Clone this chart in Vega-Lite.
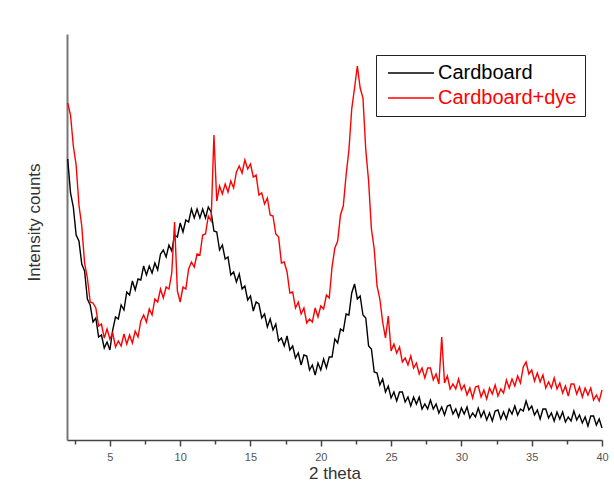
{
  "$schema": "https://vega.github.io/schema/vega-lite/v6.json",
  "width": 535,
  "height": 406,
  "autosize": "none",
  "padding": {"left": 67, "top": 34, "right": 12, "bottom": 47},
  "background": "white",
  "config": {"view": {"stroke": null}, "font": "Liberation Sans"},
  "data": {"values": [
    {"t":2.0,"Cardboard":281,"Cardboard+dye":337},{"t":2.2,"Cardboard":247,"Cardboard+dye":325},{"t":2.4,"Cardboard":233,"Cardboard+dye":294},{"t":2.6,"Cardboard":205,"Cardboard+dye":275},{"t":2.8,"Cardboard":199,"Cardboard+dye":235},
    {"t":3.0,"Cardboard":176,"Cardboard+dye":214},{"t":3.2,"Cardboard":169,"Cardboard+dye":177},{"t":3.4,"Cardboard":141,"Cardboard+dye":162},{"t":3.6,"Cardboard":135,"Cardboard+dye":138},{"t":3.8,"Cardboard":118,"Cardboard+dye":137},
    {"t":4.0,"Cardboard":122,"Cardboard+dye":132},{"t":4.2,"Cardboard":103,"Cardboard+dye":114},{"t":4.4,"Cardboard":105,"Cardboard+dye":116},{"t":4.6,"Cardboard":92,"Cardboard+dye":102},{"t":4.8,"Cardboard":98,"Cardboard+dye":111},
    {"t":5.0,"Cardboard":90,"Cardboard+dye":101},{"t":5.2,"Cardboard":110,"Cardboard+dye":107},{"t":5.4,"Cardboard":123,"Cardboard+dye":93},{"t":5.6,"Cardboard":121,"Cardboard+dye":99},{"t":5.8,"Cardboard":135,"Cardboard+dye":94},
    {"t":6.0,"Cardboard":130,"Cardboard+dye":106},{"t":6.2,"Cardboard":148,"Cardboard+dye":96},{"t":6.4,"Cardboard":145,"Cardboard+dye":105},{"t":6.6,"Cardboard":159,"Cardboard+dye":97},{"t":6.8,"Cardboard":150,"Cardboard+dye":109},
    {"t":7.0,"Cardboard":161,"Cardboard+dye":103},{"t":7.2,"Cardboard":160,"Cardboard+dye":119},{"t":7.4,"Cardboard":174,"Cardboard+dye":125},{"t":7.6,"Cardboard":165,"Cardboard+dye":118},{"t":7.8,"Cardboard":174,"Cardboard+dye":131},
    {"t":8.0,"Cardboard":167,"Cardboard+dye":125},{"t":8.2,"Cardboard":177,"Cardboard+dye":141},{"t":8.4,"Cardboard":170,"Cardboard+dye":138},{"t":8.6,"Cardboard":186,"Cardboard+dye":151},{"t":8.8,"Cardboard":190,"Cardboard+dye":142},
    {"t":9.0,"Cardboard":183,"Cardboard+dye":153},{"t":9.2,"Cardboard":195,"Cardboard+dye":151},{"t":9.4,"Cardboard":189,"Cardboard+dye":167},{"t":9.6,"Cardboard":205,"Cardboard+dye":218},{"t":9.8,"Cardboard":203,"Cardboard+dye":149},
    {"t":10.0,"Cardboard":217,"Cardboard+dye":138},{"t":10.2,"Cardboard":208,"Cardboard+dye":153},{"t":10.4,"Cardboard":220,"Cardboard+dye":151},{"t":10.6,"Cardboard":218,"Cardboard+dye":171},{"t":10.8,"Cardboard":231,"Cardboard+dye":178},
    {"t":11.0,"Cardboard":222,"Cardboard+dye":173},{"t":11.2,"Cardboard":231,"Cardboard+dye":186},{"t":11.4,"Cardboard":222,"Cardboard+dye":185},{"t":11.6,"Cardboard":231,"Cardboard+dye":205},{"t":11.8,"Cardboard":222,"Cardboard+dye":206},
    {"t":12.0,"Cardboard":233,"Cardboard+dye":224},{"t":12.2,"Cardboard":228,"Cardboard+dye":219},{"t":12.4,"Cardboard":209,"Cardboard+dye":305},{"t":12.6,"Cardboard":208,"Cardboard+dye":239},{"t":12.8,"Cardboard":190,"Cardboard+dye":254},
    {"t":13.0,"Cardboard":195,"Cardboard+dye":246},{"t":13.2,"Cardboard":181,"Cardboard+dye":256},{"t":13.4,"Cardboard":183,"Cardboard+dye":248},{"t":13.6,"Cardboard":165,"Cardboard+dye":259},{"t":13.8,"Cardboard":168,"Cardboard+dye":252},
    {"t":14.0,"Cardboard":158,"Cardboard+dye":268},{"t":14.2,"Cardboard":166,"Cardboard+dye":274},{"t":14.4,"Cardboard":151,"Cardboard+dye":267},{"t":14.6,"Cardboard":154,"Cardboard+dye":280},{"t":14.8,"Cardboard":140,"Cardboard+dye":271},
    {"t":15.0,"Cardboard":144,"Cardboard+dye":276},{"t":15.2,"Cardboard":129,"Cardboard+dye":263},{"t":15.4,"Cardboard":138,"Cardboard+dye":265},{"t":15.6,"Cardboard":136,"Cardboard+dye":245},{"t":15.8,"Cardboard":122,"Cardboard+dye":247},
    {"t":16.0,"Cardboard":126,"Cardboard+dye":236},{"t":16.2,"Cardboard":113,"Cardboard+dye":242},{"t":16.4,"Cardboard":121,"Cardboard+dye":225},{"t":16.6,"Cardboard":110,"Cardboard+dye":224},{"t":16.8,"Cardboard":116,"Cardboard+dye":206},
    {"t":17.0,"Cardboard":99,"Cardboard+dye":203},{"t":17.2,"Cardboard":102,"Cardboard+dye":177},{"t":17.4,"Cardboard":94,"Cardboard+dye":178},{"t":17.6,"Cardboard":104,"Cardboard+dye":168},{"t":17.8,"Cardboard":90,"Cardboard+dye":147},
    {"t":18.0,"Cardboard":94,"Cardboard+dye":148},{"t":18.2,"Cardboard":82,"Cardboard+dye":132},{"t":18.4,"Cardboard":87,"Cardboard+dye":138},{"t":18.6,"Cardboard":75,"Cardboard+dye":126},{"t":18.8,"Cardboard":85,"Cardboard+dye":132},
    {"t":19.0,"Cardboard":84,"Cardboard+dye":117},{"t":19.2,"Cardboard":70,"Cardboard+dye":121},{"t":19.4,"Cardboard":75,"Cardboard+dye":118},{"t":19.6,"Cardboard":65,"Cardboard+dye":132},{"t":19.8,"Cardboard":77,"Cardboard+dye":123},
    {"t":20.0,"Cardboard":70,"Cardboard+dye":134},{"t":20.2,"Cardboard":81,"Cardboard+dye":131},{"t":20.4,"Cardboard":72,"Cardboard+dye":145},{"t":20.6,"Cardboard":83,"Cardboard+dye":142},{"t":20.8,"Cardboard":83,"Cardboard+dye":173},
    {"t":21.0,"Cardboard":101,"Cardboard+dye":192},{"t":21.2,"Cardboard":97,"Cardboard+dye":199},{"t":21.4,"Cardboard":111,"Cardboard+dye":225},{"t":21.6,"Cardboard":109,"Cardboard+dye":234},{"t":21.8,"Cardboard":126,"Cardboard+dye":265},
    {"t":22.0,"Cardboard":125,"Cardboard+dye":290},{"t":22.2,"Cardboard":147,"Cardboard+dye":331},{"t":22.4,"Cardboard":156,"Cardboard+dye":352},{"t":22.6,"Cardboard":141,"Cardboard+dye":374},{"t":22.8,"Cardboard":144,"Cardboard+dye":352},
    {"t":23.0,"Cardboard":125,"Cardboard+dye":342},{"t":23.2,"Cardboard":122,"Cardboard+dye":290},{"t":23.4,"Cardboard":94,"Cardboard+dye":259},{"t":23.6,"Cardboard":91,"Cardboard+dye":211},{"t":23.8,"Cardboard":68,"Cardboard+dye":191},
    {"t":24.0,"Cardboard":67,"Cardboard+dye":154},{"t":24.2,"Cardboard":55,"Cardboard+dye":141},{"t":24.4,"Cardboard":61,"Cardboard+dye":118},{"t":24.6,"Cardboard":48,"Cardboard+dye":102},{"t":24.8,"Cardboard":54,"Cardboard+dye":124},
    {"t":25.0,"Cardboard":42,"Cardboard+dye":89},{"t":25.2,"Cardboard":48,"Cardboard+dye":96},{"t":25.4,"Cardboard":39,"Cardboard+dye":87},{"t":25.6,"Cardboard":48,"Cardboard+dye":93},{"t":25.8,"Cardboard":48,"Cardboard+dye":78},
    {"t":26.0,"Cardboard":38,"Cardboard+dye":82},{"t":26.2,"Cardboard":43,"Cardboard+dye":75},{"t":26.4,"Cardboard":34,"Cardboard+dye":84},{"t":26.6,"Cardboard":43,"Cardboard+dye":72},{"t":26.8,"Cardboard":36,"Cardboard+dye":77},
    {"t":27.0,"Cardboard":43,"Cardboard+dye":66},{"t":27.2,"Cardboard":31,"Cardboard+dye":72},{"t":27.4,"Cardboard":36,"Cardboard+dye":62},{"t":27.6,"Cardboard":31,"Cardboard+dye":72},{"t":27.8,"Cardboard":40,"Cardboard+dye":72},
    {"t":28.0,"Cardboard":31,"Cardboard+dye":60},{"t":28.2,"Cardboard":36,"Cardboard+dye":66},{"t":28.4,"Cardboard":27,"Cardboard+dye":56},{"t":28.6,"Cardboard":33,"Cardboard+dye":103},{"t":28.8,"Cardboard":25,"Cardboard+dye":57},
    {"t":29.0,"Cardboard":34,"Cardboard+dye":64},{"t":29.2,"Cardboard":35,"Cardboard+dye":51},{"t":29.4,"Cardboard":26,"Cardboard+dye":56},{"t":29.6,"Cardboard":31,"Cardboard+dye":51},{"t":29.8,"Cardboard":23,"Cardboard+dye":61},
    {"t":30.0,"Cardboard":32,"Cardboard+dye":50},{"t":30.2,"Cardboard":26,"Cardboard+dye":55},{"t":30.4,"Cardboard":33,"Cardboard+dye":45},{"t":30.6,"Cardboard":22,"Cardboard+dye":52},{"t":30.8,"Cardboard":27,"Cardboard+dye":42},
    {"t":31.0,"Cardboard":23,"Cardboard+dye":53},{"t":31.2,"Cardboard":32,"Cardboard+dye":54},{"t":31.4,"Cardboard":23,"Cardboard+dye":43},{"t":31.6,"Cardboard":29,"Cardboard+dye":50},{"t":31.8,"Cardboard":20,"Cardboard+dye":41},
    {"t":32.0,"Cardboard":27,"Cardboard+dye":52},{"t":32.2,"Cardboard":19,"Cardboard+dye":46},{"t":32.4,"Cardboard":29,"Cardboard+dye":55},{"t":32.6,"Cardboard":30,"Cardboard+dye":44},{"t":32.8,"Cardboard":21,"Cardboard+dye":51},
    {"t":33.0,"Cardboard":28,"Cardboard+dye":47},{"t":33.2,"Cardboard":21,"Cardboard+dye":60},{"t":33.4,"Cardboard":31,"Cardboard+dye":52},{"t":33.6,"Cardboard":26,"Cardboard+dye":61},{"t":33.8,"Cardboard":34,"Cardboard+dye":54},
    {"t":34.0,"Cardboard":25,"Cardboard+dye":64},{"t":34.2,"Cardboard":31,"Cardboard+dye":57},{"t":34.4,"Cardboard":29,"Cardboard+dye":73},{"t":34.6,"Cardboard":39,"Cardboard+dye":78},{"t":34.8,"Cardboard":30,"Cardboard+dye":66},
    {"t":35.0,"Cardboard":34,"Cardboard+dye":70},{"t":35.2,"Cardboard":25,"Cardboard+dye":59},{"t":35.4,"Cardboard":30,"Cardboard+dye":67},{"t":35.6,"Cardboard":21,"Cardboard+dye":58},{"t":35.8,"Cardboard":31,"Cardboard+dye":65},
    {"t":36.0,"Cardboard":31,"Cardboard+dye":52},{"t":36.2,"Cardboard":22,"Cardboard+dye":58},{"t":36.4,"Cardboard":27,"Cardboard+dye":52},{"t":36.6,"Cardboard":19,"Cardboard+dye":62},{"t":36.8,"Cardboard":28,"Cardboard+dye":51},
    {"t":37.0,"Cardboard":21,"Cardboard+dye":57},{"t":37.2,"Cardboard":28,"Cardboard+dye":47},{"t":37.4,"Cardboard":18,"Cardboard+dye":54},{"t":37.6,"Cardboard":23,"Cardboard+dye":44},{"t":37.8,"Cardboard":19,"Cardboard+dye":56},
    {"t":38.0,"Cardboard":29,"Cardboard+dye":56},{"t":38.2,"Cardboard":20,"Cardboard+dye":46},{"t":38.4,"Cardboard":25,"Cardboard+dye":53},{"t":38.6,"Cardboard":17,"Cardboard+dye":43},{"t":38.8,"Cardboard":23,"Cardboard+dye":52},
    {"t":39.0,"Cardboard":14,"Cardboard+dye":45},{"t":39.2,"Cardboard":24,"Cardboard+dye":52},{"t":39.4,"Cardboard":24,"Cardboard+dye":40},{"t":39.6,"Cardboard":15,"Cardboard+dye":45},{"t":39.8,"Cardboard":21,"Cardboard+dye":39},
    {"t":40.0,"Cardboard":12,"Cardboard+dye":50}
  ]},
  "transform": [{"fold": ["Cardboard", "Cardboard+dye"], "as": ["series", "v"]}],
  "mark": {"type": "line", "strokeWidth": 1.4},
  "encoding": {
    "x": {
      "field": "t", "type": "quantitative",
      "scale": {"domain": [1.95, 40], "nice": false, "zero": false},
      "axis": {
        "title": "2 theta",
        "values": [2.5, 5, 7.5, 10, 12.5, 15, 17.5, 20, 22.5, 25, 27.5, 30, 32.5, 35, 37.5, 40],
        "labelExpr": "datum.value % 5 === 0 ? datum.label : ''",
        "tickSize": {"condition": {"test": "datum.value % 5 === 0", "value": 6}, "value": 4},
        "grid": false,
        "labelFlush": false,
        "labelOverlap": false,
        "domainColor": "#444",
        "domainWidth": 1.5,
        "tickColor": "#444",
        "tickWidth": 1.5,
        "labelColor": "#555",
        "labelFontSize": 11,
        "labelPadding": 5,
        "titleFontSize": 17,
        "titleFontWeight": "normal",
        "titleColor": "#333",
        "titlePadding": 3
      }
    },
    "y": {
      "field": "v", "type": "quantitative",
      "scale": {"domain": [0, 406], "nice": false},
      "axis": {
        "title": "Intensity counts",
        "labels": false,
        "ticks": false,
        "grid": false,
        "domainColor": "#777",
        "domainWidth": 2,
        "titleFontSize": 17,
        "titleFontWeight": "normal",
        "titleColor": "#333",
        "titlePadding": 24,
        "titleY": 188
      }
    },
    "color": {
      "field": "series", "type": "nominal",
      "scale": {"domain": ["Cardboard", "Cardboard+dye"], "range": ["#000000", "#ff0000"]},
      "legend": {
        "orient": "none",
        "legendX": 309,
        "legendY": 21,
        "title": null,
        "direction": "vertical",
        "strokeColor": "#222",
        "fillColor": "white",
        "padding": 8,
        "symbolType": "M-4,0H4",
        "symbolSize": 132,
        "symbolStrokeWidth": 1.3,
        "symbolOffset": 17,
        "labelOffset": 17,
        "labelFontSize": 20,
        "labelLimit": 300,
        "rowPadding": 5,
        "encode": {"labels": {"update": {"fill": {"signal": "datum.value === 'Cardboard' ? '#000000' : '#ff0000'"}}}}
      }
    }
  }
}
